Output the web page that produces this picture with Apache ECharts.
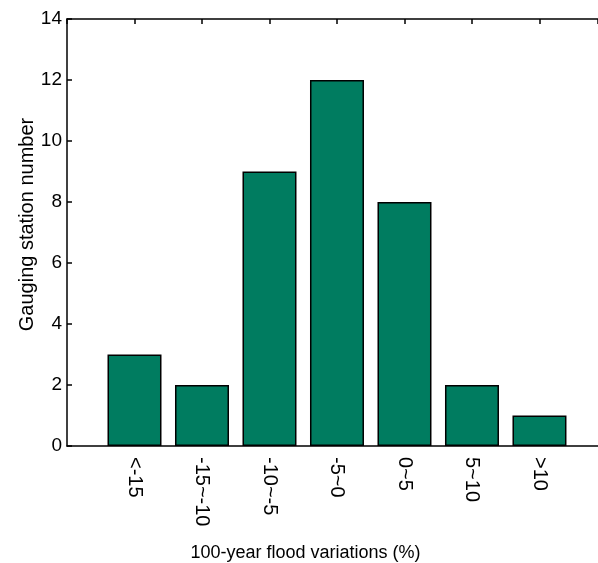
<!DOCTYPE html>
<html>
<head>
<meta charset="utf-8">
<script src="https://cdn.jsdelivr.net/npm/echarts@6/dist/echarts.min.js"></script>
<style>
    html, body {margin: 0; padding: 0; background: #fff;}
    #main {width: 598px; height: 563px;}
</style>
</head>
<body>
<div id="main"></div>
<script>
// 各区间的站点数
var categories = ['<-15', '-15~-10', '-10~-5', '-5~0', '0~5', '5~10', '>10'];
var stationCounts = [3, 2, 9, 12, 8, 2, 1];
var yTicks = [0, 2, 4, 6, 8, 10, 12, 14];

var myChart = echarts.init(document.getElementById('main'));

var axisLine = {lineStyle: {color: '#000', width: 1.5}};
var font = 'Liberation Sans, Arial, sans-serif';
var xMax = 7.867; // 原图右侧被裁掉

var option = {
    animation: false,
    grid: {left: 67, top: 19, right: 0, bottom: 117, containLabel: false, outerBoundsMode: 'none'},
    xAxis: [
        {
            type: 'value',
            min: 0,
            max: xMax,
            interval: 1,
            name: '100-year flood variations (%)',
            nameLocation: 'middle',
            nameGap: 98,
            nameMoveOverlap: false,
            nameTextStyle: {color: '#000', fontSize: 18, fontFamily: font, padding: [0, 54, 0, 0]},
            axisLine: axisLine,
            axisTick: {show: false},
            splitLine: {show: false},
            axisLabel: {
                rotate: -90,
                margin: 11,
                color: '#000',
                fontSize: 20,
                fontFamily: font,
                showMaxLabel: false,
                formatter: function (v) {
                    return categories[v - 1] || '';
                }
            }
        },
        {
            type: 'value',
            position: 'top',
            min: 0,
            max: xMax,
            interval: 1,
            axisLine: axisLine,
            axisTick: {inside: true, length: 5, lineStyle: {color: '#000', width: 1.5}},
            axisLabel: {show: false},
            splitLine: {show: false}
        }
    ],
    yAxis: {
        type: 'value',
        min: yTicks[0],
        max: yTicks[yTicks.length - 1],
        interval: 2,
        name: 'Gauging station number',
        nameLocation: 'middle',
        nameGap: 30,
        nameMoveOverlap: false,
        nameTextStyle: {color: '#000', fontSize: 20, fontFamily: font, padding: [0, 0, 0, 16]},
        axisLine: {show: true, lineStyle: {color: '#000', width: 1.5}},
        axisTick: {inside: true, length: 5, lineStyle: {color: '#000', width: 1.5}},
        splitLine: {show: false},
        axisLabel: {color: '#000', fontSize: 19, fontFamily: font, margin: 5}
    },
    series: [
        {
            type: 'bar',
            barWidth: 54,
            itemStyle: {color: '#007c60', borderColor: '#000', borderWidth: 1.5},
            data: categories.map(function (c, i) {
                return [i + 1, stationCounts[i]];
            })
        }
    ]
};

myChart.setOption(option);
</script>
</body>
</html>
